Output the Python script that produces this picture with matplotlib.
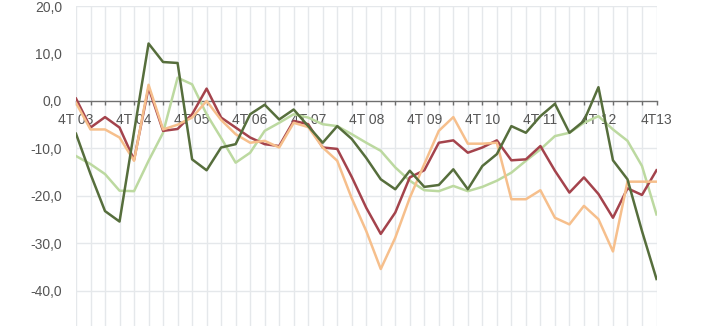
#!/usr/bin/env python3
"""Quarterly indicator lines, 4T03 - 4T13"""

import matplotlib
matplotlib.use('Agg')
import matplotlib.pyplot as plt
import numpy as np

# quarters from 4T03 to 4T13 (41 points)
quarters = list(range(41))
year_labels = ['4T 03', '4T 04', '4T 05', '4T 06', '4T 07', '4T 08',
               '4T 09', '4T 10', '4T 11', '4T 12', '4T13']

maroon = [0.5, -5.6, -3.4, -5.6, -12.4, 2.8, -6.3, -5.9, -2.8, 2.6,
          -3.5, -5.6, -7.7, -9.1, -9.5, -4.2, -4.9, -9.8, -10.1, -16.0,
          -22.5, -28.0, -23.5, -16.1, -14.6, -8.8, -8.3, -10.9, -9.8, -8.3,
          -12.5, -12.3, -9.5, -14.7, -19.3, -16.1, -19.6, -24.6, -18.4, -19.8,
          -14.6]

orange = [-0.4, -6.0, -6.0, -7.7, -12.6, 3.4, -6.0, -5.0, -3.5, 0.0,
          -4.0, -7.0, -8.8, -8.4, -9.8, -4.6, -5.5, -9.8, -12.6, -20.5,
          -27.4, -35.4, -28.8, -20.4, -13.3, -6.3, -3.4, -9.0, -9.0, -8.8,
          -20.7, -20.7, -18.8, -24.6, -26.0, -22.1, -24.9, -31.7, -17.0, -17.0,
          -17.0]

dark_green = [-6.9, -15.4, -23.2, -25.4, -6.5, 12.1, 8.2, 8.0, -12.3, -14.6,
              -9.8, -9.1, -2.8, -0.8, -3.9, -1.8, -5.3, -8.8, -5.3, -8.0,
              -12.0, -16.5, -18.6, -14.7, -18.1, -17.7, -14.4, -18.6, -13.7, -11.2,
              -5.3, -6.7, -3.2, -0.6, -6.7, -4.2, 2.9, -12.5, -16.5, -27.4,
              -37.5]

light_green = [-11.6, -13.3, -15.4, -18.9, -19.0, -12.6, -6.7, 4.9, 3.5, -2.8,
               -7.8, -13.0, -10.9, -6.3, -4.6, -2.8, -3.5, -4.9, -5.3, -7.0,
               -8.8, -10.5, -14.0, -16.8, -18.8, -19.0, -17.9, -19.0, -18.1, -16.8,
               -15.1, -12.6, -10.2, -7.4, -6.7, -4.6, -3.2, -6.0, -8.4, -13.7,
               -23.9]

yticks = [20, 10, 0, -10, -20, -30, -40]

plt.rcParams['font.family'] = ['Liberation Sans', 'DejaVu Sans']

fig = plt.figure(figsize=(7.12, 3.26), dpi=100)
ax = fig.add_axes([76 / 712, 0, (656.5 - 76) / 712, 1 - 6 / 326])

ax.set_xlim(0, 40)
ax.set_ylim(-47.4, 20)

# grid
for q in quarters:
    ax.axvline(q, color='#e5e8eb', linewidth=1.0, zorder=0)
for v in yticks:
    if v != 0:
        ax.axhline(v, color='#e5e8eb', linewidth=1.0, zorder=0)

ax.plot(quarters, light_green, color='#bcd9a0', linewidth=1.8, zorder=2)
ax.plot(quarters, maroon, color='#a4434c', linewidth=1.8, zorder=3)
ax.plot(quarters, orange, color='#f6bf8c', linewidth=1.8, zorder=4)
ax.plot(quarters, dark_green, color='#566e3c', linewidth=1.8, zorder=5)

# axis through zero
for s in ['left', 'right', 'top']:
    ax.spines[s].set_visible(False)
ax.spines['bottom'].set_position(('data', 0))
ax.spines['bottom'].set_color('#6f6f6f')
ax.spines['bottom'].set_linewidth(1.0)
ax.spines['bottom'].set_zorder(1)

ax.set_xticks(quarters)
ax.set_xticklabels([year_labels[q // 4] if q % 4 == 0 else '' for q in quarters])
ax.tick_params(axis='x', direction='out', length=3, width=1, color='#6f6f6f',
               pad=6, labelsize=10, labelcolor='#555555')

ax.set_yticks(yticks)
ax.set_yticklabels([f'{v:.1f}'.replace('.', ',') for v in yticks])
ax.tick_params(axis='y', length=0, pad=10, labelsize=10, labelcolor='#555555')

fig.savefig('out.png', dpi=100)
